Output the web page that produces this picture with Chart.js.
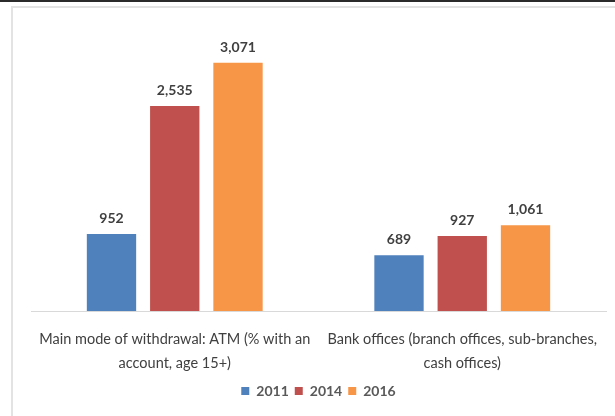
<!DOCTYPE html>
<html>
<head>
<meta charset="utf-8">
<script src="https://cdn.jsdelivr.net/npm/chart.js@4.4.1/dist/chart.umd.min.js"></script>
<style>
  body { margin: 0; background: #fff; }
  #topline { position: absolute; left: 0; top: 0; width: 615px; height: 2px; background: #2b2b2b; }
  #frame { position: absolute; left: 11px; top: 6px; width: 700px; height: 500px; border: 2px solid #e3e3e3; }
  #wrap { position: absolute; left: 0; top: 0; width: 615px; height: 416px; }
</style>
</head>
<body>
<div id="topline"></div>
<div id="frame"></div>
<div id="wrap"><canvas id="withdrawalChart"></canvas></div>
<script>
const categories = [
  ['Main mode of withdrawal: ATM (% with an', 'account, age 15+)'],
  ['Bank offices (branch offices, sub-branches,', 'cash offices)']
];
const years = ['2011', '2014', '2016'];
const values2011 = [952, 689];
const values2014 = [2535, 927];
const values2016 = [3071, 1061];

const seriesColors = ['#4F81BD', '#C0504D', '#F79646'];
const fontFamily = 'Lato, "Open Sans", sans-serif';

// value labels above each bar
const barLabels = {
  id: 'barLabels',
  afterDatasetsDraw(chart) {
    const ctx = chart.ctx;
    ctx.save();
    ctx.font = 'bold 14px ' + fontFamily;
    ctx.fillStyle = '#404040';
    ctx.textAlign = 'center';
    ctx.textBaseline = 'alphabetic';
    chart.data.datasets.forEach(function(ds, i) {
      chart.getDatasetMeta(i).data.forEach(function(bar, j) {
        ctx.fillText(ds.data[j].toLocaleString('en-US'), bar.x, bar.y - 11);
      });
    });
    ctx.restore();
  }
};

document.addEventListener('DOMContentLoaded', function() {
  const ctx = document.getElementById('withdrawalChart');

  new Chart(ctx.getContext('2d'), {
    type: 'bar',
    data: {
      labels: categories,
      datasets: [values2011, values2014, values2016].map(function(vals, i) {
        return {
          label: years[i],
          data: vals,
          backgroundColor: seriesColors[i],
          borderWidth: 0,
          categoryPercentage: 0.66,
          barPercentage: 0.78
        };
      })
    },
    options: {
      responsive: true,
      maintainAspectRatio: false,
      animation: false,
      layout: {
        padding: { left: 31, right: 9, top: 28, bottom: 8 }
      },
      plugins: {
        legend: {
          position: 'bottom',
          labels: {
            boxWidth: 8,
            boxHeight: 8,
            padding: 6,
            color: '#595959',
            font: { family: fontFamily, size: 14, weight: 'bold' }
          }
        },
        tooltip: { enabled: false }
      },
      scales: {
        x: {
          grid: { display: false },
          border: { display: true, color: '#d9d9d9', width: 1 },
          afterFit: function(scale) { scale.height = 67; },
          ticks: {
            color: '#404040',
            maxRotation: 0,
            autoSkip: false,
            padding: 8,
            font: { family: fontFamily, size: 14.5, lineHeight: 1.65 }
          }
        },
        y: {
          display: false,
          min: 0,
          max: 3500
        }
      }
    },
    plugins: [barLabels]
  });
});
</script>
</body>
</html>
